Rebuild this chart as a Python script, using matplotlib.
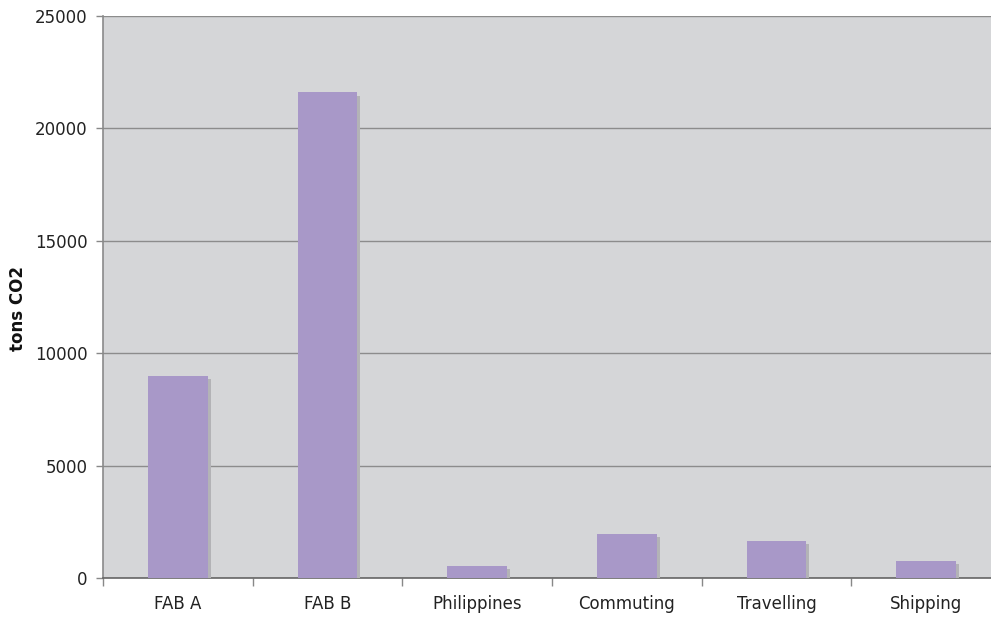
import matplotlib
matplotlib.use("Agg")
import matplotlib.pyplot as plt
import matplotlib.patheffects as pe
import numpy as np

categories = ["FAB A", "FAB B", "Philippines", "Commuting", "Travelling", "Shipping"]
emissions = [9000, 21600, 550, 1980, 1660, 770]
y_ticks = [0, 5000, 10000, 15000, 20000, 25000]

plt.rcParams["font.family"] = ["DejaVu Sans"]

fig = plt.figure(figsize=(9.91, 6.17), dpi=100)
ax = fig.add_axes([103 / 991, 38.7 / 617, 898 / 991, 562.3 / 617])
ax.set_facecolor("#d5d6d8")

x = np.arange(len(categories))
bars = ax.bar(x, emissions, width=0.4, color="#a898c8", zorder=3)
for b in bars:
    b.set_path_effects([
        pe.SimplePatchShadow(offset=(2.2, -2.2), shadow_rgbFace="#b3b3b6", alpha=1.0),
        pe.Normal(),
    ])

ax.set_xlim(-0.5, len(categories) - 0.5)
ax.set_ylim(0, 25000)
ax.set_yticks(y_ticks)
ax.set_yticklabels([str(v) for v in y_ticks], fontsize=12, color="#222222")
ax.yaxis.grid(True, color="#8c8c8c", linewidth=1.0, zorder=1)
ax.set_axisbelow(True)

# category labels centred, tick marks on category boundaries
ax.set_xticks(x)
ax.set_xticklabels(categories, fontsize=12, color="#222222")
ax.tick_params(axis="x", length=0, pad=12)
ax.set_xticks(np.arange(len(categories) + 1) - 0.5, minor=True)
ax.tick_params(axis="x", which="minor", length=6, color="#888888", width=1)
ax.tick_params(axis="y", length=5, color="#888888", width=1, pad=6)

for side in ("top", "right"):
    ax.spines[side].set_visible(False)
ax.spines["left"].set_color("#8a8a8a")
ax.spines["left"].set_linewidth(1.2)
ax.spines["bottom"].set_color("#666666")
ax.spines["bottom"].set_linewidth(1.2)

ax.set_ylabel("tons CO2", fontsize=12, fontweight="bold", color="#111111")
ax.yaxis.set_label_coords(27 / 991, 0.5, transform=fig.transFigure)

fig.savefig("out.png", dpi=100, facecolor="white")
